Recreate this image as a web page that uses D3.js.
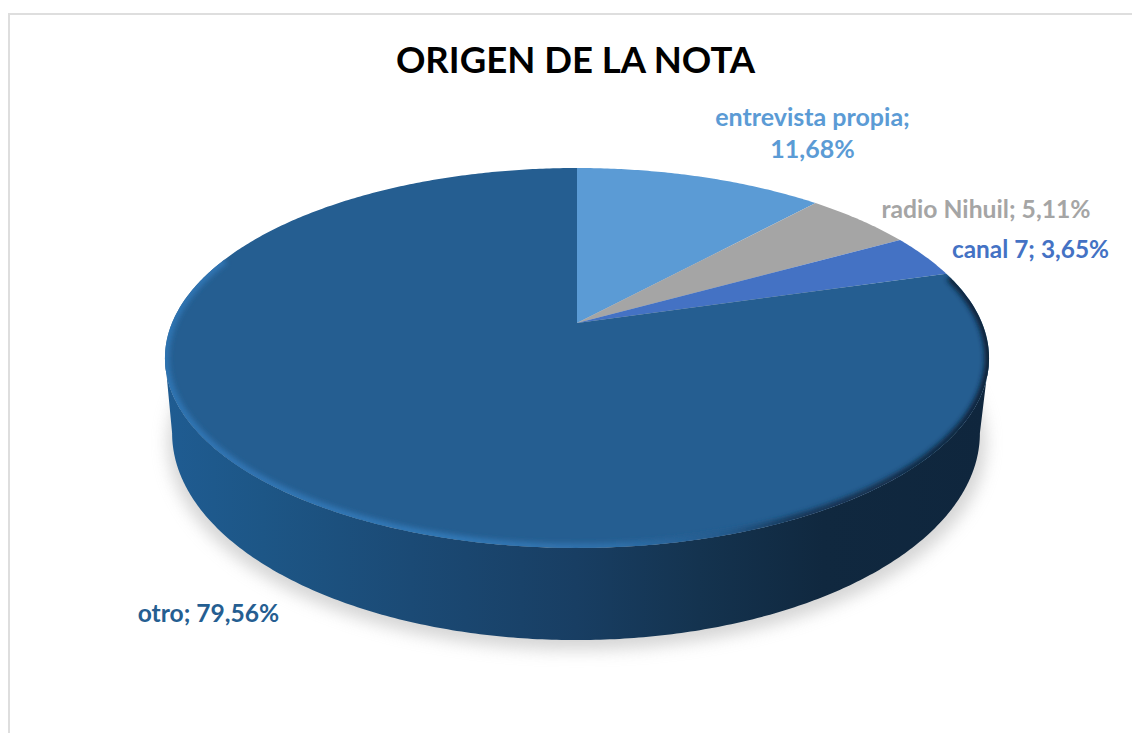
<!DOCTYPE html>
<html><head><meta charset="utf-8">
<script src="https://cdn.jsdelivr.net/npm/d3@7"></script>
<style>html,body{margin:0;padding:0;background:#fff;overflow:hidden}svg{display:block}text{font-family:"Lato",sans-serif;font-weight:700}</style>
</head><body><div id="c"></div>
<script>
const categories = ["entrevista propia","radio Nihuil","canal 7","otro"];
const values = [11.68,5.11,3.65,79.56];
const valueLabels = ["11,68%","5,11%","3,65%","79,56%"];
const colors = ["#5b9bd5","#a5a5a5","#4472c4","#255e91"];
const W=1132,H=733;
const svg=d3.select("#c").append("svg").attr("width",W).attr("height",H);
const defs=svg.append("defs");

// projective view of a tilted disc
const K=0.184;
const topLevel={cx:577,cy:323,a:183.5,b:405};
const baseLevel={cx:576,cy:395,a:200,b:397};
const project=(t,l)=>{const s=Math.sin(t),c=Math.cos(t),w=1+K*c;return [l.cx+l.b*s/w,l.cy-l.a*c/w];};
const arcs=d3.pie().sort(null).value(d=>d)(values);
const samples=(a0,a1)=>{const n=Math.max(2,Math.ceil((a1-a0)/0.01));return d3.range(n+1).map(i=>a0+(a1-a0)*i/n);};
const line=d3.line();
const rim=(a0,a1,l)=>samples(a0,a1).map(t=>project(t,l));
const TAU=Math.PI*2;
const fullTop=line(rim(0,TAU,topLevel))+"Z";

const blur=(id,sd)=>defs.append("filter").attr("id",id).attr("x","-20%").attr("y","-20%").attr("width","140%").attr("height","140%")
  .append("feGaussianBlur").attr("stdDeviation",sd);
blur("shadowBlur",8); blur("rimBlur",2.4);

const grad=(id,stops,x1,x2)=>{const g=defs.append("linearGradient").attr("id",id).attr("gradientUnits","userSpaceOnUse")
  .attr("x1",x1).attr("x2",x2).attr("y1",0).attr("y2",0);
  stops.forEach(([o,c])=>g.append("stop").attr("offset",o).attr("stop-color",c));};
grad("sideGrad",[[0,"#1f5c92"],[0.12,"#1d5686"],[0.3,"#1b4a75"],[0.5,"#183e63"],[0.65,"#14334f"],[0.8,"#10283f"],[1,"#0f263d"]],164,988);
grad("rimGrad",[[0,"#2f74b2"],[0.35,"#3378b6"],[0.55,"#2e6fa9"],[0.68,"#245a8c"],[0.76,"#16385a"],[1,"#0e2238"]],164,988);
defs.append("clipPath").attr("id","faceClip").append("path").attr("d",fullTop);

// frame
svg.append("path").attr("d",`M9,${H} V14 H${W}`).attr("fill","none").attr("stroke","#dedede").attr("stroke-width",2);

// title
svg.append("text").attr("x",575.5).attr("y",73).attr("text-anchor","middle").attr("font-size",36.5).attr("fill","#000").text("ORIGEN DE LA NOTA");

// shadow
const extreme=Math.acos(-K);
const sideStart=extreme, sideEnd=TAU-extreme;
svg.append("path").attr("d",line(rim(0,TAU,{cx:577,cy:405,a:200,b:402}))+"Z").attr("fill","#b4b4b4").attr("opacity",0.55).attr("filter","url(#shadowBlur)");

// side wall
const wall=rim(sideStart,sideEnd,baseLevel).concat(rim(sideStart,sideEnd,topLevel).reverse());
svg.append("path").attr("d",line(wall)+"Z").attr("fill","url(#sideGrad)");

// top slices
svg.append("g").selectAll("path").data(arcs).join("path")
  .attr("d",d=>line([[topLevel.cx,topLevel.cy],...rim(d.startAngle,d.endAngle,topLevel)])+"Z")
  .attr("fill",(d,i)=>colors[i]);

// bevel along the near rim
svg.append("g").attr("clip-path","url(#faceClip)").append("path")
  .attr("d",line(rim(arcs[3].startAngle+0.02,Math.PI*1.62,topLevel)))
  .attr("fill","none").attr("stroke","url(#rimGrad)").attr("stroke-width",9).attr("filter","url(#rimBlur)");

// data labels
const labelSpec=[
  {i:0,lines:[`${categories[0]};`,valueLabels[0]],x:812.5,y:[126,158],size:25},
  {i:1,lines:[`${categories[1]}; ${valueLabels[1]}`],x:986,y:[218],size:24.7},
  {i:2,lines:[`${categories[2]}; ${valueLabels[2]}`],x:1030.5,y:[258],size:24.4},
  {i:3,lines:[`${categories[3]}; ${valueLabels[3]}`],x:208.5,y:[622],size:24.6}
];
labelSpec.forEach(l=>l.lines.forEach((s,j)=>svg.append("text").attr("x",l.x).attr("y",l.y[j]).attr("text-anchor","middle")
  .attr("font-size",l.size).attr("fill",colors[l.i]).text(s)));
</script></body></html>
